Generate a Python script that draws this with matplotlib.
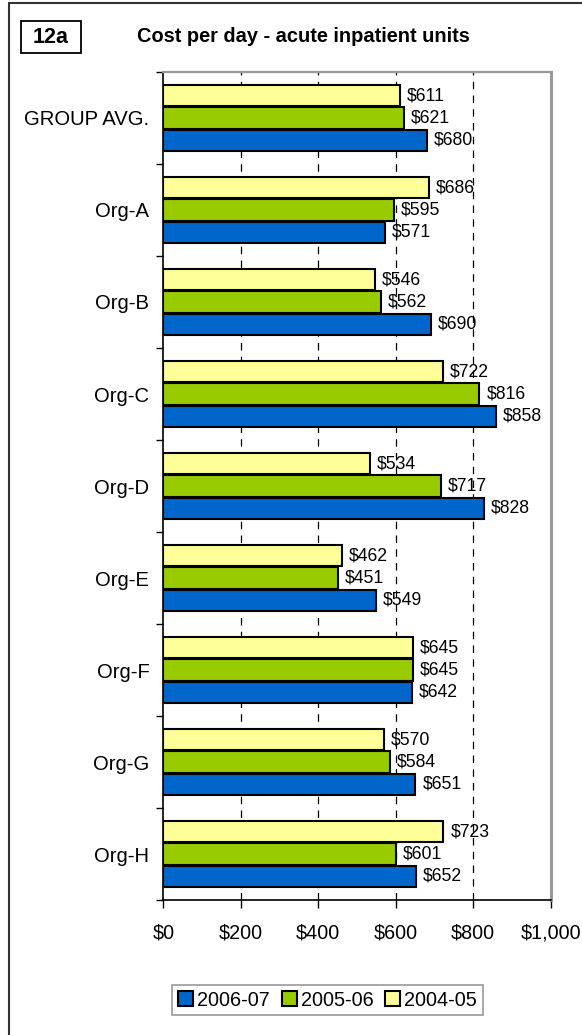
import matplotlib
matplotlib.use("Agg")
import matplotlib.pyplot as plt
from matplotlib.patches import Rectangle
from matplotlib.ticker import FixedLocator, FuncFormatter
import numpy as np

plt.rcParams['font.family'] = ['Liberation Sans', 'DejaVu Sans']

categories = ["GROUP AVG.", "Org-A", "Org-B", "Org-C", "Org-D",
              "Org-E", "Org-F", "Org-G", "Org-H"]
cost_2006_07 = [680, 571, 690, 858, 828, 549, 642, 651, 652]
cost_2005_06 = [621, 595, 562, 816, 717, 451, 645, 584, 601]
cost_2004_05 = [611, 686, 546, 722, 534, 462, 645, 570, 723]
series_names = ["2006-07", "2005-06", "2004-05"]
x_ticks = [0, 200, 400, 600, 800, 1000]

W, H = 582, 1035
fig = plt.figure(figsize=(W / 100, H / 100), dpi=100)
fig.patch.set_facecolor("white")

def fx(px):
    return px / W

def fy(py):
    return 1 - py / H

# plot area
left, right, top, bottom = 163.3, 550.7, 72, 900
ax = fig.add_axes([fx(left), fy(bottom), fx(right - left), (bottom - top) / H])

colors = {"2006-07": "#0066CC", "2005-06": "#99CC00", "2004-05": "#FFFF99"}
y = np.arange(len(categories))
bar_h = 0.232
offsets = {"2004-05": -0.243, "2005-06": 0.0, "2006-07": 0.243}
data = {"2006-07": cost_2006_07, "2005-06": cost_2005_06, "2004-05": cost_2004_05}

# dashed gridlines behind bars
for xv in x_ticks[1:-1]:
    ax.axvline(xv, color="black", lw=0.9, ls=(0, (6, 5)), zorder=0)

handles = {}
for name in ["2004-05", "2005-06", "2006-07"]:
    vals = data[name]
    bars = ax.barh(y + offsets[name], vals, height=bar_h, color=colors[name],
                   edgecolor="black", linewidth=1.5, zorder=2)
    handles[name] = bars
    for yi, v in zip(y, vals):
        ax.annotate(f"${v:,}", xy=(v, yi + offsets[name]), xytext=(5, 0),
                    textcoords="offset points", va="center", ha="left",
                    fontsize=12.7, color="black", zorder=3)

ax.set_xlim(0, 1000)
ax.set_ylim(len(categories) - 0.5, -0.5)

ax.xaxis.set_major_locator(FixedLocator(x_ticks))
ax.xaxis.set_major_formatter(FuncFormatter(lambda v, p: f"${int(v):,}"))
ax.tick_params(axis="x", direction="out", length=6, width=1, pad=11,
               labelsize=14.2, color="black")

ax.set_yticks(y)
ax.set_yticklabels(categories)
ax.set_yticks(np.arange(-0.5, len(categories), 1.0), minor=True)
ax.tick_params(axis="y", which="major", length=0, pad=10, labelsize=14.6)
ax.tick_params(axis="y", which="minor", direction="out", length=5, width=1,
               color="black")

ax.spines["left"].set_color("black")
ax.spines["left"].set_linewidth(1.2)
ax.spines["bottom"].set_color("black")
ax.spines["bottom"].set_linewidth(1.2)
ax.spines["top"].set_color("#999999")
ax.spines["top"].set_linewidth(1.6)
ax.spines["right"].set_color("#999999")
ax.spines["right"].set_linewidth(2.2)

# legend
leg_handles = [handles[n] for n in series_names]
leg = fig.legend(leg_handles, series_names, loc="center",
                 bbox_to_anchor=(fx(327.5), fy(1000)), ncol=3, fontsize=14.3,
                 frameon=True, fancybox=False, handlelength=0.75,
                 handleheight=0.75, handletextpad=0.2, columnspacing=0.6,
                 borderpad=0.3, borderaxespad=0)
leg.get_frame().set_edgecolor("#808080")
leg.get_frame().set_linewidth(1.2)

# title and panel tag
fig.text(fx(303), fy(36), "Cost per day - acute inpatient units",
         ha="center", va="center", fontsize=14.4, fontweight="bold")
fig.patches.append(Rectangle((fx(21), fy(53)), fx(60), 32 / H,
                             transform=fig.transFigure, fill=False,
                             edgecolor="black", linewidth=1.3))
fig.text(fx(51), fy(37.5), "12a", ha="center", va="center", fontsize=15.5,
         fontweight="bold")

# outer frame
fig.patches.append(Rectangle((fx(8.5), fy(1100)), fx(700), 1097.5 / H,
                             transform=fig.transFigure, fill=False,
                             edgecolor="#333333", linewidth=1.5))

fig.savefig("out.png", dpi=100, facecolor="white")
